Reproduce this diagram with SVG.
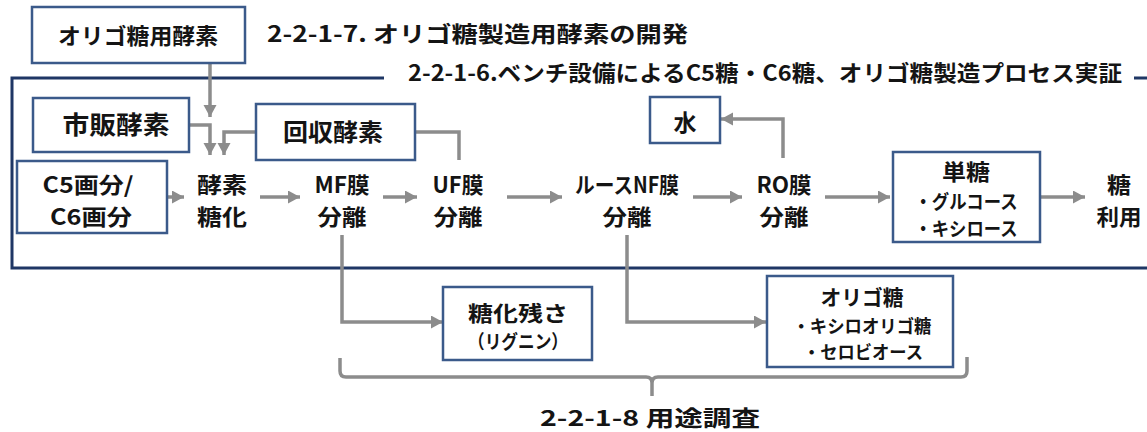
<svg xmlns="http://www.w3.org/2000/svg" width="1147" height="432" viewBox="0 0 1147 432">
<style>
text{font-family:"Noto Sans CJK JP","Noto Sans",sans-serif;font-weight:bold;fill:#141414;text-anchor:middle}
.box{fill:#fff;stroke:#3b5a8a;stroke-width:2.5}
.frame{fill:none;stroke:#1f3765;stroke-width:3}
.con{fill:none;stroke:#8c8c8c;stroke-width:3.5}
.title{text-anchor:start}
</style>
<defs>
<marker id="ah" markerUnits="userSpaceOnUse" markerWidth="14" markerHeight="14" refX="12" refY="6.5" orient="auto">
<path d="M0,0 L12,6.5 L0,13 Z" fill="#8c8c8c"/>
</marker>
</defs>
<rect width="1147" height="432" fill="#fff"/>
<g id="frame">
<path class="frame" d="M384,78 H12 V268 H1150 M1134,78 H1150"/>
<text class="title" x="408" y="81" font-size="22" textLength="714" lengthAdjust="spacingAndGlyphs">2-2-1-6.ベンチ設備によるC5糖・C6糖、オリゴ糖製造プロセス実証</text>
</g>
<g id="title-217">
<text class="title" x="267" y="41.5" font-size="22" textLength="421" lengthAdjust="spacingAndGlyphs">2-2-1-7. オリゴ糖製造用酵素の開発</text>
</g>
<g id="connectors">
<path class="con" d="M210,63 V117" marker-end="url(#ah)"/>
<path class="con" d="M189,125 H210 V155" marker-end="url(#ah)"/>
<path class="con" d="M256,132 H224 V155" marker-end="url(#ah)"/>
<path class="con" d="M459,160 V132 H415"/>
<path class="con" d="M167,197 H184" marker-end="url(#ah)"/>
<path class="con" d="M260,197 H300" marker-end="url(#ah)"/>
<path class="con" d="M383,197 H417" marker-end="url(#ah)"/>
<path class="con" d="M507,197 H562" marker-end="url(#ah)"/>
<path class="con" d="M693,197 H742" marker-end="url(#ah)"/>
<path class="con" d="M825,197 H890" marker-end="url(#ah)"/>
<path class="con" d="M1041,197 H1085" marker-end="url(#ah)"/>
<path class="con" d="M783,158 V119 H721" marker-end="url(#ah)"/>
<path class="con" d="M342,235 V322 H443" marker-end="url(#ah)"/>
<path class="con" d="M627,235 V322 H766" marker-end="url(#ah)"/>
<path class="con" d="M340,358 V371 Q340,377 346,377 H646 Q652,377 652,383 V396 M652,383 Q652,377 658,377 H961 Q967,377 967,371 V357"/>
</g>
<g id="n-oligo-enzyme">
<rect class="box" x="32" y="7" width="213" height="56"/>
<text x="138" y="43.5" font-size="22" textLength="160" lengthAdjust="spacingAndGlyphs">オリゴ糖用酵素</text>
</g>
<g id="n-commercial-enzyme">
<rect class="box" x="33" y="98" width="156" height="54"/>
<text x="116" y="134" font-size="25" textLength="107" lengthAdjust="spacingAndGlyphs">市販酵素</text>
</g>
<g id="n-recovered-enzyme">
<rect class="box" x="256" y="104" width="159" height="56"/>
<text x="333" y="141" font-size="24" textLength="100" lengthAdjust="spacingAndGlyphs">回収酵素</text>
</g>
<g id="n-c5c6">
<rect class="box" x="17" y="161" width="150" height="72"/>
<text font-size="22"><tspan x="88" y="192.5" textLength="91" lengthAdjust="spacingAndGlyphs">C5画分/</tspan><tspan x="91" y="224.5" textLength="82" lengthAdjust="spacingAndGlyphs">C6画分</tspan></text>
</g>
<g id="n-saccharification">
<text font-size="22"><tspan x="222" y="192.5" textLength="50" lengthAdjust="spacingAndGlyphs">酵素</tspan><tspan x="222" y="224.5" textLength="50" lengthAdjust="spacingAndGlyphs">糖化</tspan></text>
</g>
<g id="n-mf">
<text font-size="22"><tspan x="342" y="192.5" textLength="55" lengthAdjust="spacingAndGlyphs">MF膜</tspan><tspan x="342" y="224.5" textLength="49" lengthAdjust="spacingAndGlyphs">分離</tspan></text>
</g>
<g id="n-uf">
<text font-size="22"><tspan x="458" y="192.5" textLength="51" lengthAdjust="spacingAndGlyphs">UF膜</tspan><tspan x="458" y="224.5" textLength="49" lengthAdjust="spacingAndGlyphs">分離</tspan></text>
</g>
<g id="n-nf">
<text font-size="22"><tspan x="627" y="192.5" textLength="104" lengthAdjust="spacingAndGlyphs">ルースNF膜</tspan><tspan x="627" y="224.5" textLength="49" lengthAdjust="spacingAndGlyphs">分離</tspan></text>
</g>
<g id="n-ro">
<text font-size="22"><tspan x="784" y="192.5" textLength="55" lengthAdjust="spacingAndGlyphs">RO膜</tspan><tspan x="784" y="224.5" textLength="49" lengthAdjust="spacingAndGlyphs">分離</tspan></text>
</g>
<g id="n-water">
<rect class="box" x="650" y="97" width="70" height="46"/>
<text x="685" y="131" font-size="23">水</text>
</g>
<g id="n-monosaccharide">
<rect class="box" x="893" y="152" width="147" height="90"/>
<text font-size="19"><tspan x="966" y="180" font-size="22" textLength="48" lengthAdjust="spacingAndGlyphs">単糖</tspan><tspan x="966" y="208.5" textLength="103" lengthAdjust="spacingAndGlyphs">・グルコース</tspan><tspan x="966" y="236.2" textLength="103" lengthAdjust="spacingAndGlyphs">・キシロース</tspan></text>
</g>
<g id="n-sugar-use">
<text font-size="22"><tspan x="1119" y="192.5" textLength="24" lengthAdjust="spacingAndGlyphs">糖</tspan><tspan x="1119" y="224.5" textLength="45" lengthAdjust="spacingAndGlyphs">利用</tspan></text>
</g>
<g id="n-residue">
<rect class="box" x="443" y="287" width="149" height="73"/>
<text font-size="21"><tspan x="518" y="321" textLength="100" lengthAdjust="spacingAndGlyphs">糖化残さ</tspan><tspan x="518" y="349.4" font-size="19" textLength="100" lengthAdjust="spacingAndGlyphs">（リグニン）</tspan></text>
</g>
<g id="n-oligosaccharide">
<rect class="box" x="767" y="276" width="186" height="91"/>
<text font-size="18"><tspan x="862" y="304.5" font-size="21" textLength="83" lengthAdjust="spacingAndGlyphs">オリゴ糖</tspan><tspan x="862" y="333" textLength="139" lengthAdjust="spacingAndGlyphs">・キシロオリゴ糖</tspan><tspan x="863" y="359.2" textLength="120" lengthAdjust="spacingAndGlyphs">・セロビオース</tspan></text>
</g>
<g id="label-218">
<text x="650" y="426" font-size="21.5" textLength="220" lengthAdjust="spacingAndGlyphs">2-2-1-8 用途調査</text>
</g>
</svg>
